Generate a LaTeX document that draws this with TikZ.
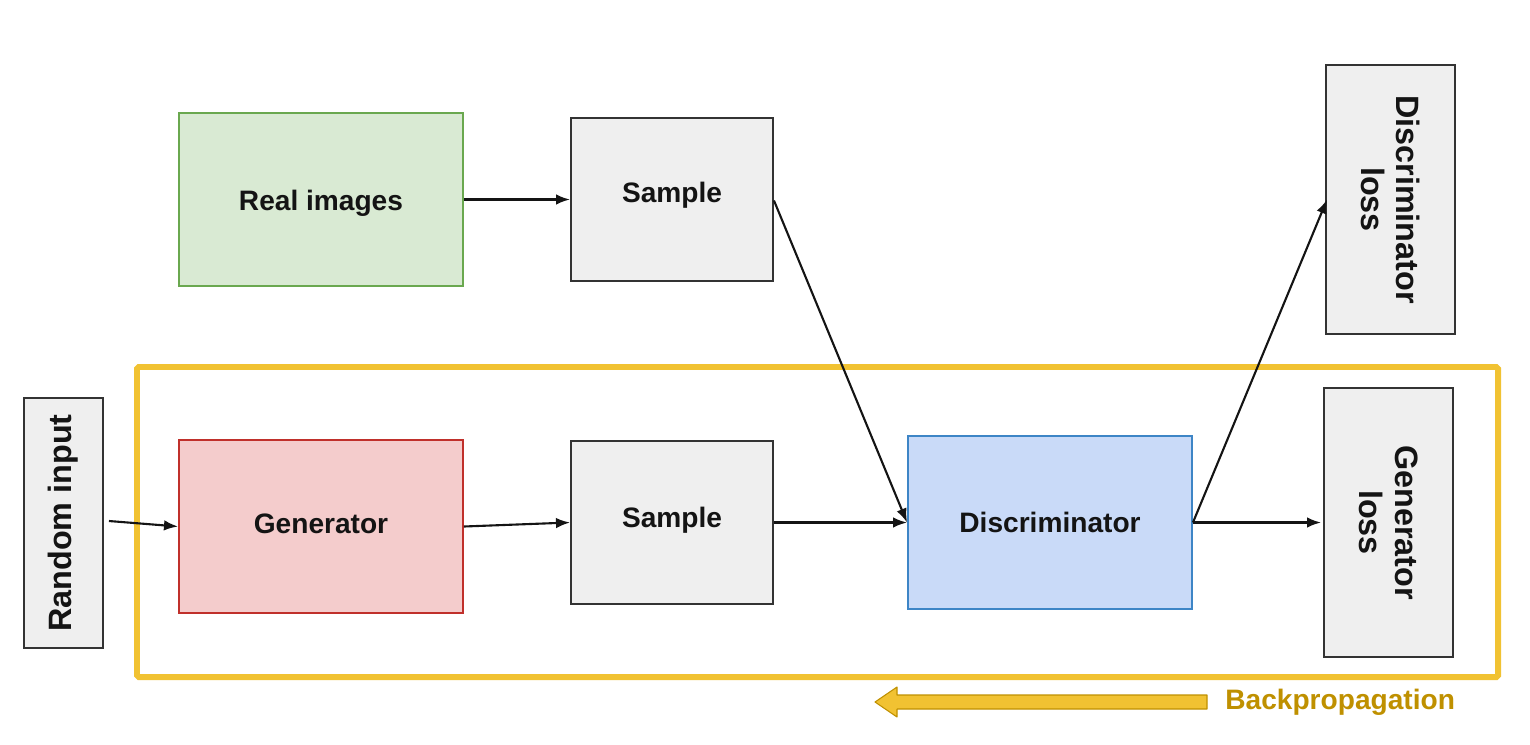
\documentclass[tikz,border=0pt]{standalone}
\usepackage{fontspec}
\setmainfont{Liberation Sans}
\usetikzlibrary{arrows.meta}
\definecolor{gfill}{HTML}{D9EAD3}
\definecolor{gdraw}{HTML}{6AA84F}
\definecolor{nfill}{HTML}{EFEFEF}
\definecolor{ndraw}{HTML}{333333}
\definecolor{rfill}{HTML}{F4CCCC}
\definecolor{rdraw}{HTML}{C0302B}
\definecolor{bfill}{HTML}{C9DAF8}
\definecolor{bdraw}{HTML}{3D85C6}
\definecolor{ylw}{HTML}{F1C232}
\definecolor{ydark}{HTML}{BF9000}
\tikzset{
  box/.style={draw, line width=1.1pt, inner sep=0pt, align=center,
    font=\fontsize{16}{19}\selectfont\bfseries, text=black!92},
  vc/.style={text height=0.45cm, text depth=#1},
  vtext/.style={font=\fontsize{18.4}{20.4}\selectfont\bfseries},
  wide/.style={box, minimum width=5.68cm, minimum height=3.46cm},
  mid/.style={box, minimum width=4.04cm, minimum height=3.26cm, fill=nfill, draw=ndraw},
  tall/.style={box, vtext, minimum width=5.38cm, minimum height=2.58cm, fill=nfill, draw=ndraw, rotate=-90},
  conn/.style={line width=1.2pt, black!92, -{Latex[length=8pt,width=6pt]}}
}
\begin{document}
\begin{tikzpicture}[x=0.02cm, y=-0.02cm]
\useasboundingbox (0,0) rectangle (1530,744);
% frame
\draw[ylw, line width=3.4pt, rounded corners=1pt] (137,367) rectangle (1498,677);
% nodes
\node[wide, fill=gfill, draw=gdraw, vc=0.03cm] (real) at (321,199.5) {Real images};
\node[mid, vc=0.33cm] (st) at (672,199.5) {Sample};
\node[tall] (dl) at (1390.5,199.5) {Discriminator\\loss};
\node[box, vtext, fill=nfill, draw=ndraw, rotate=90, minimum width=5.0cm, minimum height=1.58cm] (ri) at (63.5,523) {Random input};
\node[wide, fill=rfill, draw=rdraw, vc=0.19cm] (gen) at (321,526.5) {Generator};
\node[mid, vc=0.27cm] (sb) at (672,522.5) {Sample};
\node[wide, fill=bfill, draw=bdraw] (dis) at (1050,522.5) {Discriminator};
\node[tall] (gl) at (1388.5,522.5) {Generator\\loss};
% connectors
\draw[conn] (real.east) -- (st.west);
\draw[conn] ([yshift=-0.02cm]st.east) -- (dis.west);
\draw[conn] ([xshift=0.1cm,yshift=0.04cm]ri.south) -- (gen.west);
\draw[conn] (gen.east) -- (sb.west);
\draw[conn] (sb.east) -- (dis.west);
\draw[conn] (dis.east) -- ([xshift=0.04cm]dl.south);
\draw[conn] (dis.east) -- ([xshift=-0.04cm]gl.south);
% backpropagation arrow
\filldraw[fill=ylw, draw=ydark, line width=0.6pt, line join=round]
  (1207,695) -- (897,695) -- (897,687) -- (875,702) -- (897,717) -- (897,709) -- (1207,709) -- cycle;
\node[font=\fontsize{16}{19}\selectfont\bfseries, text=ydark, anchor=west, inner sep=0pt] (bp) at (1225,702) {Backpropagation};
\end{tikzpicture}
\end{document}
